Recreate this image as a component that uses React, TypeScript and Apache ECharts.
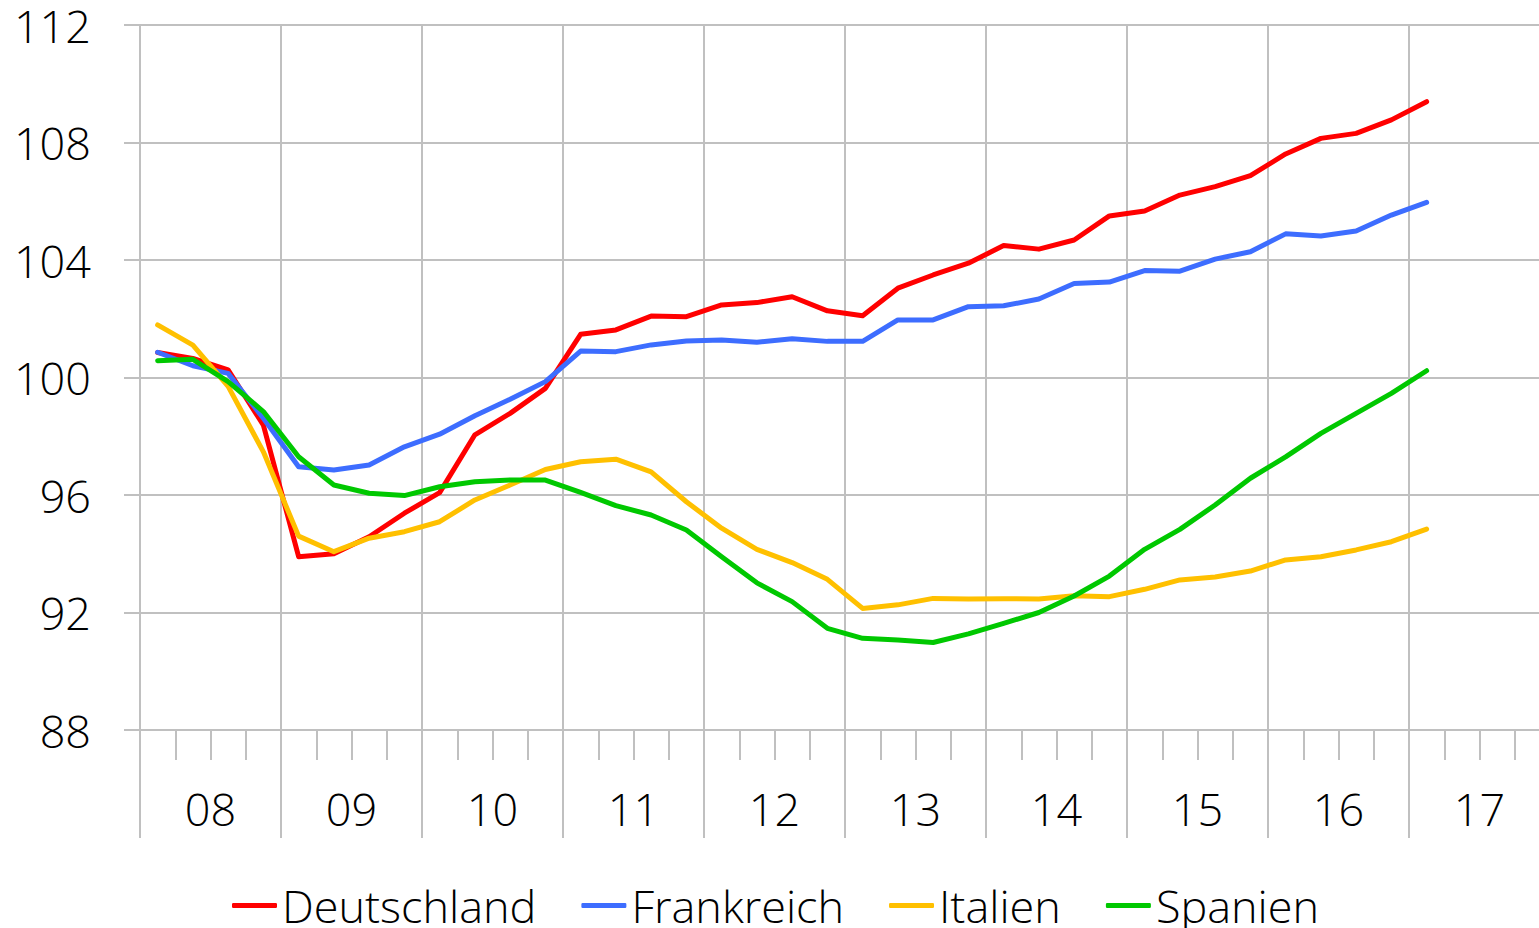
import React, { useEffect, useRef } from "react";
import * as echarts from "echarts";

const years = ["08", "09", "10", "11", "12", "13", "14", "15", "16", "17"];
const quarterNames = ["Q1", "Q2", "Q3", "Q4"];
const quarters = years.flatMap((y) => quarterNames.map((q) => y + q));

const yTicks = { min: 88, max: 112, interval: 4 };

const deutschland = [100.85, 100.65, 100.26, 98.38, 93.9, 94.0, 94.58, 95.38, 96.08, 98.05, 98.78, 99.63, 101.47, 101.62, 102.09, 102.07, 102.47, 102.55, 102.75, 102.27, 102.1, 103.04, 103.49, 103.89, 104.49, 104.37, 104.68, 105.5, 105.67, 106.21, 106.5, 106.87, 107.61, 108.14, 108.31, 108.77, 109.39];
const frankreich = [100.86, 100.4, 100.14, 98.61, 96.96, 96.85, 97.02, 97.64, 98.07, 98.7, 99.26, 99.86, 100.9, 100.88, 101.11, 101.24, 101.28, 101.2, 101.32, 101.23, 101.23, 101.96, 101.96, 102.41, 102.44, 102.67, 103.2, 103.25, 103.64, 103.62, 104.03, 104.28, 104.89, 104.82, 104.99, 105.53, 105.96];
const italien = [101.79, 101.1, 99.7, 97.47, 94.6, 94.07, 94.53, 94.75, 95.09, 95.83, 96.34, 96.87, 97.13, 97.22, 96.79, 95.77, 94.87, 94.15, 93.7, 93.13, 92.14, 92.26, 92.48, 92.46, 92.47, 92.46, 92.57, 92.54, 92.79, 93.11, 93.21, 93.41, 93.79, 93.9, 94.13, 94.41, 94.84];
const spanien = [100.57, 100.62, 99.86, 98.84, 97.3, 96.34, 96.06, 95.98, 96.28, 96.45, 96.51, 96.51, 96.09, 95.64, 95.32, 94.81, 93.9, 93.01, 92.37, 91.46, 91.12, 91.06, 90.98, 91.27, 91.63, 92.0, 92.56, 93.24, 94.15, 94.83, 95.66, 96.57, 97.3, 98.1, 98.78, 99.46, 100.23];

const seriesDefs = [
  { name: "Deutschland", data: deutschland, color: "#FF0000" },
  { name: "Frankreich", data: frankreich, color: "#3D6DFF" },
  { name: "Italien", data: italien, color: "#FFC000" },
  { name: "Spanien", data: spanien, color: "#00C800" },
];

const FONT = "'Open Sans', 'Noto Sans', sans-serif";
const GRID_COLOR = "#C0C0C0";
const FS = 45;
const LH = 44;

export default function App() {
  const ref = useRef<HTMLDivElement>(null);
  useEffect(() => {
    if (!ref.current) return;
    const chart = echarts.init(ref.current, undefined, { renderer: "svg" });
    chart.setOption({
      animation: false,
      backgroundColor: "#ffffff",
      textStyle: { fontFamily: FONT },
      grid: { left: 140, right: 0, top: 25, bottom: 198, containLabel: false },
      legend: {
        left: 232,
        top: 883,
        padding: 0,
        itemWidth: 45,
        itemHeight: 5,
        itemGap: 45,
        icon: "roundRect",
        textStyle: { fontSize: FS, lineHeight: LH, fontWeight: 300, color: "#000", fontFamily: FONT },
        data: seriesDefs.map((s) => s.name),
      },
      xAxis: [
        {
          type: "category",
          position: "bottom",
          data: quarters,
          boundaryGap: true,
          axisLine: { show: true, lineStyle: { color: GRID_COLOR, width: 2 } },
          axisTick: { show: true, interval: 0, length: 30, lineStyle: { color: GRID_COLOR, width: 2 } },
          axisLabel: { show: false },
          splitLine: { show: false },
        },
        {
          type: "category",
          position: "bottom",
          data: years,
          boundaryGap: true,
          axisLine: { show: false },
          axisTick: { show: true, interval: 0, length: 108, lineStyle: { color: GRID_COLOR, width: 2 } },
          axisLabel: { show: true, interval: 0, margin: 56, fontSize: FS, lineHeight: LH, fontWeight: 300, color: "#000", fontFamily: FONT },
          splitLine: { show: true, interval: 0, lineStyle: { color: GRID_COLOR, width: 2 } },
        },
      ],
      yAxis: {
        type: "value",
        min: yTicks.min,
        max: yTicks.max,
        interval: yTicks.interval,
        axisLine: { show: false },
        axisTick: { show: true, length: 16, lineStyle: { color: GRID_COLOR, width: 2 } },
        axisLabel: { margin: 49, fontSize: FS, lineHeight: LH, fontWeight: 300, color: "#000", fontFamily: FONT },
        splitLine: { show: true, lineStyle: { color: GRID_COLOR, width: 2 } },
      },
      series: seriesDefs.map((s) => ({
        name: s.name,
        type: "line",
        xAxisIndex: 0,
        data: s.data,
        symbol: "none",
        smooth: false,
        color: s.color,
        lineStyle: { color: s.color, width: 5, cap: "round", join: "round" },
        itemStyle: { color: s.color },
      })),
    });
    return () => chart.dispose();
  }, []);
  return <div ref={ref} style={{ position: "fixed", left: 0, top: 0, width: 1550, height: 928 }} />;
}
